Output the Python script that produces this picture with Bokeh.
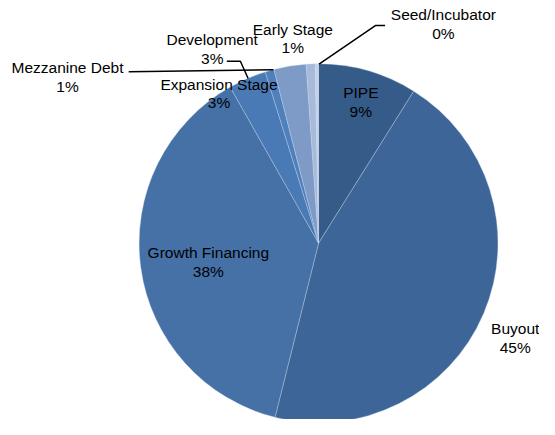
import math
from bokeh.plotting import figure
from bokeh.models import Range1d
from bokeh.core.properties import value
from bokeh.embed import file_html
from bokeh.resources import INLINE

# ---- data (clockwise from 12 o'clock) ----
categories = ["PIPE", "Buyout", "Growth Financing", "Expansion Stage",
              "Mezzanine Debt", "Development", "Early Stage", "Seed/Incubator"]
values = [8.9, 45.0, 37.9, 3.4, 0.8, 2.9, 0.8, 0.3]
colors = ["#355b89", "#3d6597", "#4571a7", "#4a7ab5", "#4e80bd",
          "#7e9bc7", "#a8bada", "#c6d2e7"]

W, H = 539, 419
REF_W, REF_H = 555, 435
SX, SY = W / REF_W, H / REF_H
S = (SX + SY) / 2

p = figure(width=W, height=H, output_backend="svg", toolbar_location=None,
           x_range=Range1d(0, W), y_range=Range1d(0, H), min_border=0,
           match_aspect=False)
p.axis.visible = False
p.grid.visible = False
p.outline_line_color = None
p.background_fill_color = "white"


def px(x):  # reference pixel x -> data
    return x * SX


def py(y):  # reference pixel y -> data
    return H - y * SY


cx, cy, r = px(327.5), py(252), 185.5 * S
total = sum(values)
cum = 0.0
starts, ends = [], []
for v in values:
    c0 = cum / total
    cum += v
    c1 = cum / total
    starts.append(math.pi / 2 - 2 * math.pi * c1)
    ends.append(math.pi / 2 - 2 * math.pi * c0)

p.wedge(x=[cx] * len(values), y=[cy] * len(values), radius=r,
        start_angle=starts, end_angle=ends, direction="anticlock",
        fill_color=colors, line_color="#c8d4e8", line_alpha=0.45,
        line_width=0.8)

# ---- leader lines (reference pixels) ----
leaders = [
    [(328, 66), (386, 26), (396, 26)],          # Seed/Incubator
    [(233, 63), (247, 63), (255, 81)],          # Development
    [(132, 74), (281, 72)],                     # Mezzanine Debt
]
for pts in leaders:
    p.line([px(a) for a, b in pts], [py(b) for a, b in pts],
           line_color="black", line_width=1.5)

# ---- labels (centre of name line, reference pixels) ----
label_pos = {
    "PIPE": (371, 96),
    "Buyout": (530, 341),
    "Growth Financing": (214, 262),
    "Expansion Stage": (225, 87),
    "Mezzanine Debt": (69, 70),
    "Development": (218, 41),
    "Early Stage": (301, 30),
    "Seed/Incubator": (456, 15),
}
line_gap = 19
names, pcts, xs, ys1, ys2 = [], [], [], [], []
for cat, v in zip(categories, values):
    x, y = label_pos[cat]
    names.append(cat)
    pcts.append(f"{round(v)}%")
    xs.append(px(x))
    ys1.append(py(y))
    ys2.append(py(y + line_gap))

for txt, ys in ((names, ys1), (pcts, ys2)):
    p.text(x=xs, y=ys, text=txt, text_align="center", text_baseline="middle",
           text_font=value("Liberation Sans"), text_font_size="15.5px",
           text_color="#000000")

open("out.html", "w").write(file_html(p, INLINE))
